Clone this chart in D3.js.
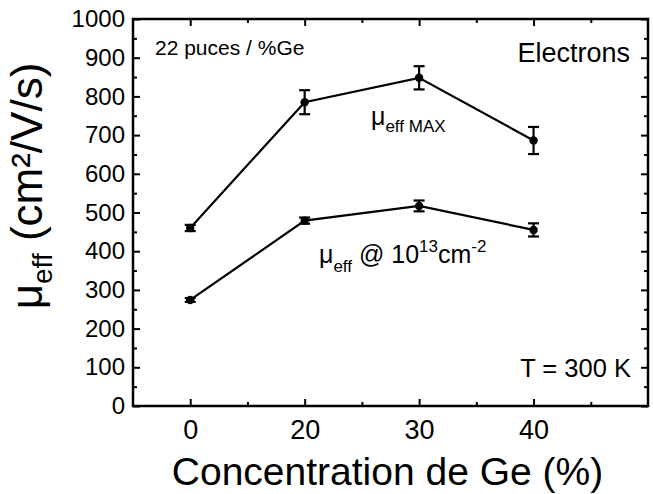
<!DOCTYPE html>
<html>
<head>
<meta charset="utf-8">
<script src="https://cdn.jsdelivr.net/npm/d3@7"></script>
<style>
  html, body { margin: 0; padding: 0; background: #fff; }
  svg { display: block; }
  text { font-family: "Liberation Sans", Arial, Helvetica, sans-serif; fill: #000; }
</style>
</head>
<body>
<svg id="chart" width="653" height="494"></svg>
<script>
// Ge concentration categories (%), placed at evenly spaced positions
const geConcentration = ["0", "20", "30", "40"];

// Maximum effective electron mobility (cm²/V/s) and its spread
const muEffMax = [460, 785, 848, 686];
const muEffMaxErr = [8, 31, 30, 35];

// Effective mobility at an inversion charge of 1e13 cm^-2
const muEff1e13 = [274, 479, 517, 455];
const muEff1e13Err = [5, 8, 14, 17];

// Y axis ticks
const yMajorTicks = [0, 100, 200, 300, 400, 500, 600, 700, 800, 900, 1000];
const yMinorTicks = d3.range(50, 1000, 100);

const svg = d3.select("#chart");
const margin = { left: 133, right: 5, top: 19, bottom: 88 };
const W = 653, H = 494;
const plotL = margin.left, plotR = W - margin.right;
const plotT = margin.top, plotB = H - margin.bottom;

const x = d3.scaleLinear().domain([-0.5, 4]).range([plotL, plotR]);
const y = d3.scaleLinear().domain([0, 1000]).range([plotB, plotT]);

const xMajor = geConcentration.map((_, i) => i);
const xMinor = [0.5, 1.5, 2.5, 3.5];

const frame = svg.append("g");

// Axes: ticks point into the plot on all four sides
const majorLen = 7, minorLen = 4;
const axB = d3.axisBottom(x).tickValues(xMajor).tickFormat(i => geConcentration[i])
  .tickSizeInner(-majorLen).tickSizeOuter(0).tickPadding(14);
const axT = d3.axisTop(x).tickValues(xMajor).tickFormat("")
  .tickSizeInner(-majorLen).tickSizeOuter(0);
const axL = d3.axisLeft(y).tickValues(yMajorTicks).tickFormat(d3.format("d"))
  .tickSizeInner(-majorLen).tickSizeOuter(0).tickPadding(8);
const axR = d3.axisRight(y).tickValues(yMajorTicks).tickFormat("")
  .tickSizeInner(-majorLen).tickSizeOuter(0);

function style(g, fs) {
  g.select(".domain").remove();
  g.selectAll(".tick line").attr("stroke", "#000").attr("stroke-width", 2);
  g.selectAll(".tick text").attr("font-size", fs).attr("fill", "#000")
    .attr("font-family", "Liberation Sans, Arial, sans-serif");
}

frame.append("g").attr("transform", `translate(0,${plotB})`).call(axB).call(g => style(g, 27));
frame.append("g").attr("transform", `translate(0,${plotT})`).call(axT).call(g => style(g, 0));
frame.append("g").attr("transform", `translate(${plotL},0)`).call(axL).call(g => style(g, 24));
frame.append("g").attr("transform", `translate(${plotR},0)`).call(axR).call(g => style(g, 0));

// Minor ticks
const minorX = d3.axisBottom(x).tickValues(xMinor).tickFormat("").tickSizeInner(-minorLen).tickSizeOuter(0);
const minorXT = d3.axisTop(x).tickValues(xMinor).tickFormat("").tickSizeInner(-minorLen).tickSizeOuter(0);
const minorY = d3.axisLeft(y).tickValues(yMinorTicks).tickFormat("").tickSizeInner(-minorLen).tickSizeOuter(0);
const minorYR = d3.axisRight(y).tickValues(yMinorTicks).tickFormat("").tickSizeInner(-minorLen).tickSizeOuter(0);
frame.append("g").attr("transform", `translate(0,${plotB})`).call(minorX).call(g => style(g, 0));
frame.append("g").attr("transform", `translate(0,${plotT})`).call(minorXT).call(g => style(g, 0));
frame.append("g").attr("transform", `translate(${plotL},0)`).call(minorY).call(g => style(g, 0));
frame.append("g").attr("transform", `translate(${plotR},0)`).call(minorYR).call(g => style(g, 0));

// Plot frame
frame.append("rect")
  .attr("x", plotL).attr("y", plotT)
  .attr("width", plotR - plotL).attr("height", plotB - plotT)
  .attr("fill", "none").attr("stroke", "#000").attr("stroke-width", 2.5);

// Series: line + error bars + dot markers
function drawSeries(vals, errs) {
  const g = svg.append("g");
  const line = d3.line().x((d, i) => x(i)).y(d => y(d));
  g.append("path").datum(vals).attr("d", line)
    .attr("fill", "none").attr("stroke", "#000").attr("stroke-width", 2.2);
  const cap = 5.5;
  vals.forEach((v, i) => {
    const cx = x(i), y0 = y(v - errs[i]), y1 = y(v + errs[i]);
    g.append("line").attr("x1", cx).attr("x2", cx).attr("y1", y0).attr("y2", y1)
      .attr("stroke", "#000").attr("stroke-width", 2.2);
    [y0, y1].forEach(yy => g.append("line")
      .attr("x1", cx - cap).attr("x2", cx + cap).attr("y1", yy).attr("y2", yy)
      .attr("stroke", "#000").attr("stroke-width", 2.2));
    g.append("circle").attr("cx", cx).attr("cy", y(v)).attr("r", 4.2).attr("fill", "#000");
  });
}
drawSeries(muEffMax, muEffMaxErr);
drawSeries(muEff1e13, muEff1e13Err);

// Axis titles
svg.append("text")
  .attr("x", (plotL + plotR) / 2 - 3).attr("y", 485)
  .attr("text-anchor", "middle").attr("font-size", 39)
  .text("Concentration de Ge (%)");

const yt = svg.append("text")
  .attr("transform", "translate(42,186) rotate(-90)")
  .attr("text-anchor", "middle").attr("font-size", 44);
yt.append("tspan").text("μ");
yt.append("tspan").attr("font-size", 28).attr("dy", 10).text("eff");
yt.append("tspan").attr("dy", -10).text(" (cm²/V/s)");

// Annotations
svg.append("text").attr("x", 155).attr("y", 55).attr("font-size", 21).text("22 puces / %Ge");
svg.append("text").attr("x", 630).attr("y", 62).attr("text-anchor", "end").attr("font-size", 27).text("Electrons");
svg.append("text").attr("x", 631).attr("y", 377).attr("text-anchor", "end").attr("font-size", 25.5).text("T = 300 K");

const lblMax = svg.append("text").attr("x", 371).attr("y", 125).attr("font-size", 25);
lblMax.append("tspan").text("μ");
lblMax.append("tspan").attr("font-size", 17).attr("dy", 7).text("eff MAX");

const lbl13 = svg.append("text").attr("x", 319).attr("y", 263).attr("font-size", 25);
lbl13.append("tspan").text("μ");
lbl13.append("tspan").attr("font-size", 17).attr("dy", 9).text("eff");
lbl13.append("tspan").attr("dy", -9).text(" @ 10");
lbl13.append("tspan").attr("font-size", 17).attr("dy", -11).text("13");
lbl13.append("tspan").attr("dy", 11).text("cm");
lbl13.append("tspan").attr("font-size", 17).attr("dy", -11).text("-2");
</script>
</body>
</html>
